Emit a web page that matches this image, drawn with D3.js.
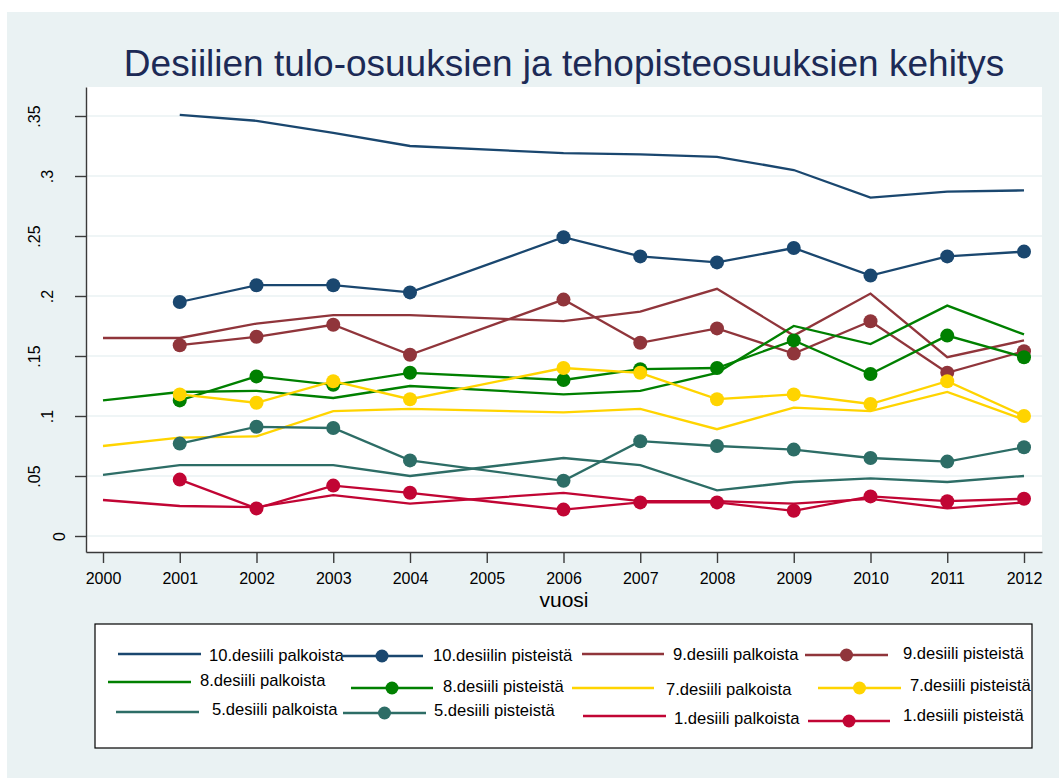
<!DOCTYPE html>
<html lang="fi">
<head>
  <meta charset="UTF-8">
  <title>Desiilien tulo-osuuksien ja tehopisteosuuksien kehitys</title>
  <script src="https://d3js.org/d3.v7.min.js"></script>
  <style>
    body {
      margin: 0;
      background-color: #ffffff;
      font-family: Arial, "Liberation Sans", sans-serif;
    }
    svg text {
      font-family: Arial, "Liberation Sans", sans-serif;
    }
  </style>
</head>
<body>
  <div id="chart"></div>

  <script>
    // years with data (2005 is missing in the source)
    const years = [2000, 2001, 2002, 2003, 2004, 2006, 2007, 2008, 2009, 2010, 2011, 2012];

    const palk10 = [null, 0.351, 0.346, 0.336, 0.325, 0.319, 0.318, 0.316, 0.305, 0.282, 0.287, 0.288];
    const pist10 = [null, 0.195, 0.209, 0.209, 0.203, 0.249, 0.233, 0.228, 0.240, 0.217, 0.233, 0.237];
    const palk9  = [0.165, 0.165, 0.177, 0.184, 0.184, 0.179, 0.187, 0.206, 0.167, 0.202, 0.149, 0.163];
    const pist9  = [null, 0.159, 0.166, 0.176, 0.151, 0.197, 0.161, 0.173, 0.152, 0.179, 0.136, 0.154];
    const palk8  = [0.113, 0.120, 0.121, 0.115, 0.125, 0.118, 0.121, 0.136, 0.175, 0.160, 0.192, 0.168];
    const pist8  = [null, 0.113, 0.133, 0.126, 0.136, 0.130, 0.139, 0.140, 0.163, 0.135, 0.167, 0.149];
    const palk7  = [0.075, 0.082, 0.083, 0.104, 0.106, 0.103, 0.106, 0.089, 0.107, 0.104, 0.120, 0.097];
    const pist7  = [null, 0.118, 0.111, 0.129, 0.114, 0.140, 0.136, 0.114, 0.118, 0.110, 0.129, 0.100];
    const palk5  = [0.051, 0.059, 0.059, 0.059, 0.050, 0.065, 0.059, 0.038, 0.045, 0.048, 0.045, 0.050];
    const pist5  = [null, 0.077, 0.091, 0.090, 0.063, 0.046, 0.079, 0.075, 0.072, 0.065, 0.062, 0.074];
    const palk1  = [0.030, 0.025, 0.024, 0.034, 0.027, 0.036, 0.029, 0.029, 0.027, 0.031, 0.023, 0.028];
    const pist1  = [null, 0.047, 0.023, 0.042, 0.036, 0.022, 0.028, 0.028, 0.021, 0.033, 0.029, 0.031];

    const xTicks = [2000, 2001, 2002, 2003, 2004, 2005, 2006, 2007, 2008, 2009, 2010, 2011, 2012];
    const yTicks = [0, 0.05, 0.1, 0.15, 0.2, 0.25, 0.3, 0.35];

    const seriesLabels = [
      '10.desiili palkoista', '10.desiilin pisteistä',
      '9.desiili palkoista', '9.desiili pisteistä',
      '8.desiili palkoista', '8.desiili pisteistä',
      '7.desiili palkoista', '7.desiili pisteistä',
      '5.desiili palkoista', '5.desiili pisteistä',
      '1.desiili palkoista', '1.desiili pisteistä'
    ];
    const seriesValues = [palk10, pist10, palk9, pist9, palk8, pist8, palk7, pist7, palk5, pist5, palk1, pist1];

    const colors = ['#1a476f', '#1a476f', '#90353b', '#90353b', '#008000', '#008000',
                    '#ffd400', '#ffd400', '#2d6d66', '#2d6d66', '#c10534', '#c10534'];

    // legend entries are placed a bit irregularly in the original
    const legendPos = [
      { x1: 118, x2: 201, ly: 654, tx: 209, ty: 661 },
      { x1: 341, x2: 423, ly: 656, tx: 433, ty: 661 },
      { x1: 582, x2: 664, ly: 654, tx: 673, ty: 660 },
      { x1: 805, x2: 888, ly: 655, tx: 903, ty: 659 },
      { x1: 108, x2: 191, ly: 682, tx: 200, ty: 686 },
      { x1: 351, x2: 433, ly: 688, tx: 443, ty: 692 },
      { x1: 572, x2: 654, ly: 688, tx: 666, ty: 695 },
      { x1: 818, x2: 901, ly: 688, tx: 910, ty: 691 },
      { x1: 116, x2: 199, ly: 712, tx: 212, ty: 715 },
      { x1: 343, x2: 426, ly: 713, tx: 434, ty: 716 },
      { x1: 583, x2: 666, ly: 716, tx: 674, ty: 724 },
      { x1: 808, x2: 890, ly: 721, tx: 903, ty: 721 }
    ];

    const W = 1059, H = 778;
    const plot = { left: 86, right: 1042, top: 87, bottom: 552 };

    const svg = d3.select('#chart')
      .append('svg')
      .attr('width', W)
      .attr('height', H)
      .style('display', 'block');

    // outer background
    svg.append('rect')
      .attr('x', 7).attr('y', 12)
      .attr('width', W - 7).attr('height', H - 12)
      .attr('fill', '#eaf2f3');

    // plot region
    svg.append('rect')
      .attr('x', plot.left).attr('y', plot.top)
      .attr('width', plot.right - plot.left)
      .attr('height', plot.bottom - plot.top)
      .attr('fill', '#ffffff');

    // scales: 2000 -> 103, 2012 -> 1024 ; 0 -> 536, .35 -> 116
    const xBase = d3.scaleLinear().domain([2000, 2012]).range([103, 1024]);
    const yBase = d3.scaleLinear().domain([0, 0.35]).range([536, 116]);
    const x = d3.scaleLinear()
      .domain([xBase.invert(plot.left), xBase.invert(plot.right)])
      .range([plot.left, plot.right]);
    const y = d3.scaleLinear()
      .domain([yBase.invert(plot.bottom), yBase.invert(plot.top)])
      .range([plot.bottom, plot.top]);

    // gridlines
    svg.append('g')
      .selectAll('line')
      .data(yTicks)
      .enter()
      .append('line')
      .attr('x1', plot.left).attr('x2', plot.right)
      .attr('y1', d => y(d)).attr('y2', d => y(d))
      .attr('stroke', '#eaf2f3')
      .attr('stroke-width', 1.6);

    // axes
    const fmtY = d => d === 0 ? '0' : d3.format('')(+d.toFixed(2)).replace(/^0\./, '.');

    const yAxis = svg.append('g')
      .attr('transform', `translate(${plot.left},0)`)
      .call(d3.axisLeft(y).tickValues(yTicks).tickSize(11).tickSizeOuter(0).tickFormat(fmtY));

    yAxis.selectAll('text')
      .attr('transform', 'rotate(-90)')
      .attr('text-anchor', 'middle')
      .attr('x', 0)
      .attr('dy', 0)
      .attr('y', function(d) { return -(21 + 12.5 * (fmtY(d).length - 1)); })
      .style('font-size', '16px')
      .attr('fill', '#000');

    const xAxis = svg.append('g')
      .attr('transform', `translate(0,${plot.bottom})`)
      .call(d3.axisBottom(x).tickValues(xTicks).tickSize(11).tickSizeOuter(0).tickFormat(d3.format('d')));

    xAxis.selectAll('text')
      .attr('y', 32)
      .attr('dy', 0)
      .style('font-size', '16px')
      .attr('fill', '#000');

    svg.selectAll('.domain, .tick line')
      .attr('stroke', '#3a3a3a')
      .attr('stroke-width', 1.4);

    // axis title
    svg.append('text')
      .attr('x', (plot.left + plot.right) / 2)
      .attr('y', 607)
      .attr('text-anchor', 'middle')
      .style('font-size', '21px')
      .text('vuosi');

    // chart title
    svg.append('text')
      .attr('x', 564)
      .attr('y', 76)
      .attr('text-anchor', 'middle')
      .style('font-size', '37px')
      .attr('fill', '#1c2a56')
      .text('Desiilien tulo-osuuksien ja tehopisteosuuksien kehitys');

    // series
    const line = d3.line()
      .defined(d => d.v !== null)
      .x(d => x(d.year))
      .y(d => y(d.v));

    seriesValues.forEach((vals, i) => {
      const pts = years.map((yr, k) => ({ year: yr, v: vals[k] }));
      const g = svg.append('g');
      g.append('path')
        .datum(pts)
        .attr('fill', 'none')
        .attr('stroke', colors[i])
        .attr('stroke-width', 2.3)
        .attr('stroke-linejoin', 'miter')
        .attr('d', line);

      if (i % 2 === 1) {
        g.selectAll('circle')
          .data(pts.filter(d => d.v !== null))
          .enter()
          .append('circle')
          .attr('cx', d => x(d.year))
          .attr('cy', d => y(d.v))
          .attr('r', 7)
          .attr('fill', colors[i]);
      }
    });

    // legend
    const legend = svg.append('g');
    legend.append('rect')
      .attr('x', 95).attr('y', 624)
      .attr('width', 1032 - 95).attr('height', 748 - 624)
      .attr('fill', '#ffffff')
      .attr('stroke', '#000')
      .attr('stroke-width', 1.2);

    seriesLabels.forEach((label, i) => {
      const p = legendPos[i];
      legend.append('line')
        .attr('x1', p.x1).attr('x2', p.x2)
        .attr('y1', p.ly).attr('y2', p.ly)
        .attr('stroke', colors[i])
        .attr('stroke-width', 2.3);
      if (i % 2 === 1) {
        legend.append('circle')
          .attr('cx', (p.x1 + p.x2) / 2)
          .attr('cy', p.ly)
          .attr('r', 6.5)
          .attr('fill', colors[i]);
      }
      legend.append('text')
        .attr('x', p.tx)
        .attr('y', p.ty)
        .style('font-size', '16.6px')
        .attr('fill', '#000')
        .text(label);
    });
  </script>
</body>
</html>
